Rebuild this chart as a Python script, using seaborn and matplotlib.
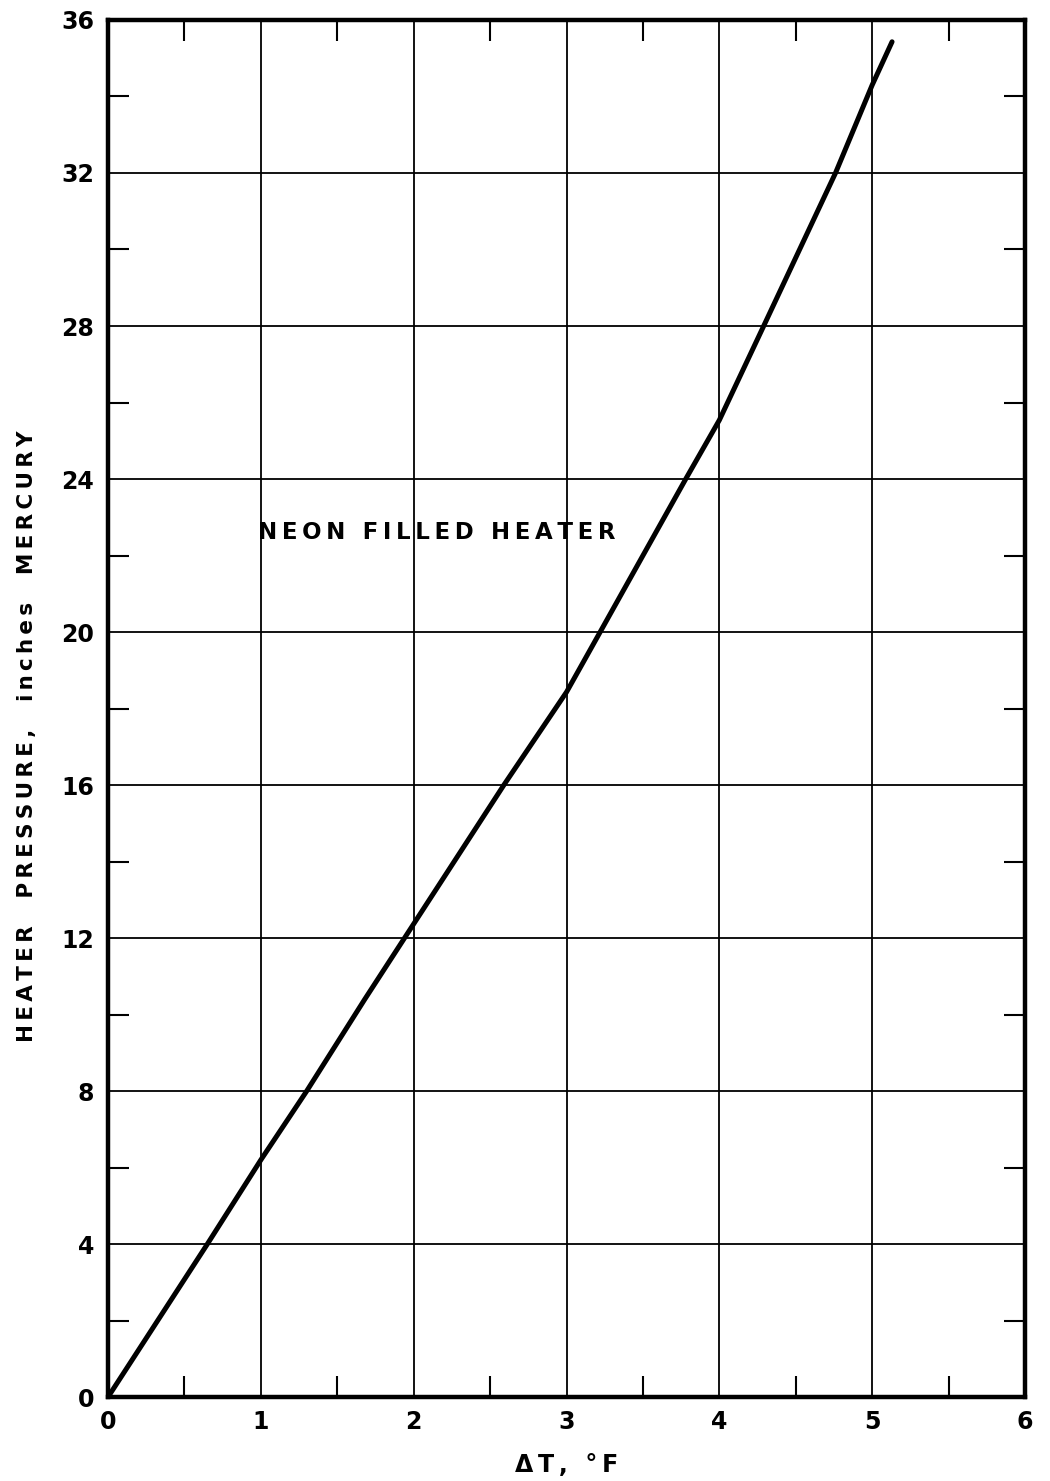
import matplotlib
matplotlib.use("Agg")
import matplotlib.pyplot as plt
from matplotlib.ticker import MultipleLocator
import pandas as pd
import seaborn as sns

# Heater pressure vs temperature difference, neon filled heater
delta_t = [0.0, 0.65, 1.00, 1.30, 1.68, 1.94, 2.59, 3.00, 3.22, 3.78, 4.00, 4.29, 4.76, 5.00, 5.13]
pressure = [0.0, 4.0, 6.2, 8.0, 10.4, 12.0, 16.0, 18.43, 20.0, 24.0, 25.54, 28.0, 32.0, 34.3, 35.43]

x_ticks = [0, 1, 2, 3, 4, 5, 6]
y_ticks = [0, 4, 8, 12, 16, 20, 24, 28, 32, 36]

x_label = "ΔT, °F"
y_label = "HEATER  PRESSURE,  inches  MERCURY"
curve_label = "NEON FILLED HEATER"


def spaced(s):
    """Widen lettering by putting a thin space between characters."""
    return "\u2009".join(s)


df = pd.DataFrame({"dT": delta_t, "P": pressure})

sns.set_style("white")
plt.rcParams["font.family"] = ["DejaVu Sans"]
plt.rcParams["text.color"] = "black"
plt.rcParams["axes.labelcolor"] = "black"
plt.rcParams["xtick.color"] = "black"
plt.rcParams["ytick.color"] = "black"

fig = plt.figure(figsize=(10.5, 14.81), dpi=100)
ax = fig.add_axes([0.1029, 0.0567, 0.8733, 0.9298])

sns.lineplot(data=df, x="dT", y="P", ax=ax, color="black", linewidth=3.6,
             solid_capstyle="round", solid_joinstyle="round", sort=False)

ax.set_xlim(0, 6)
ax.set_ylim(0, 36)
ax.set_xticks(x_ticks)
ax.set_yticks(y_ticks)
ax.set_xticklabels([str(v) for v in x_ticks], fontsize=17, fontweight="bold")
ax.set_yticklabels([str(v) for v in y_ticks], fontsize=17, fontweight="bold")
ax.xaxis.set_minor_locator(MultipleLocator(0.5))
ax.yaxis.set_minor_locator(MultipleLocator(2))

ax.grid(True, which="major", color="black", linewidth=1.3)
ax.tick_params(axis="x", which="major", length=0, pad=9)
ax.tick_params(axis="y", which="major", length=0, pad=10)
ax.tick_params(which="minor", direction="in", length=15, width=1.5,
               top=True, right=True, bottom=True, left=True, color="black")

for sp in ax.spines.values():
    sp.set_linewidth(3.2)
    sp.set_color("black")
    sp.set_visible(True)

ax.set_xlabel(spaced(x_label), fontsize=17, fontweight="bold", labelpad=14)
ax.set_ylabel(spaced(y_label), fontsize=15.5, fontweight="bold")
ax.yaxis.set_label_coords(-0.077, 0.48)

ax.text(0.98, 22.6, spaced(curve_label), fontsize=16.5, fontweight="bold",
        ha="left", va="center")

fig.savefig("out.png", dpi=100, facecolor="white")
